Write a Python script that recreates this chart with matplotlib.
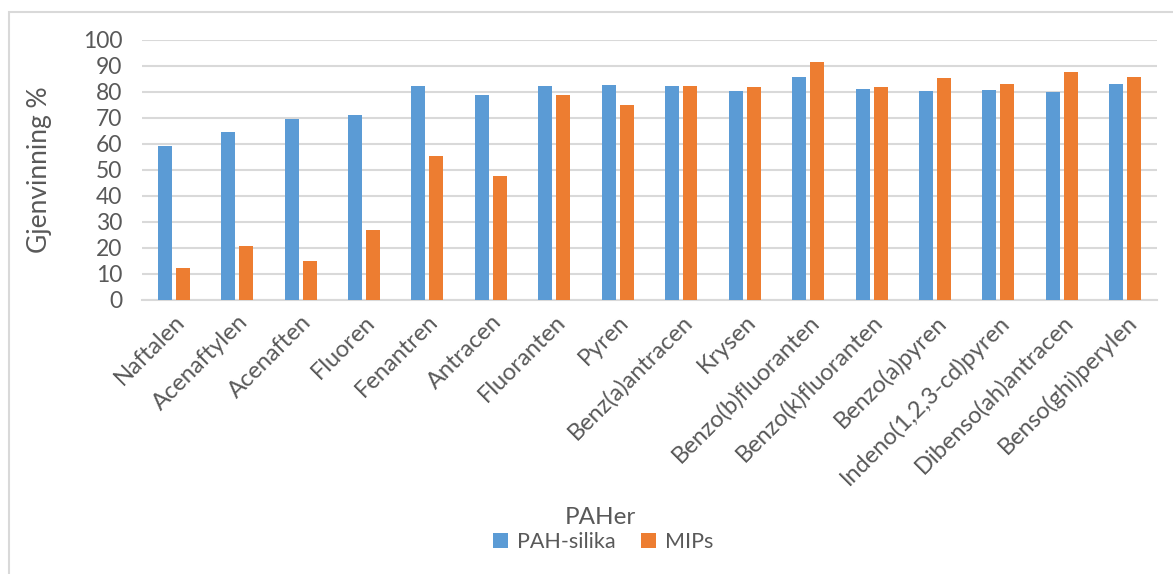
import numpy as np
import matplotlib.pyplot as plt
from matplotlib.patches import Rectangle

plt.rcParams['font.family'] = ['Lato', 'DejaVu Sans']

categories = ['Naftalen', 'Acenaftylen', 'Acenaften', 'Fluoren', 'Fenantren',
              'Antracen', 'Fluoranten', 'Pyren', 'Benz(a)antracen', 'Krysen',
              'Benzo(b)fluoranten', 'Benzo(k)fluoranten', 'Benzo(a)pyren',
              'Indeno(1,2,3-cd)pyren', 'Dibenso(ah)antracen', 'Benso(ghi)perylen']
pah_silika = [59.2, 64.7, 69.7, 71.2, 82.2, 79.0, 82.3, 82.6,
              82.2, 80.3, 85.8, 81.0, 80.4, 80.8, 80.0, 83.1]
mips = [12.2, 20.7, 15.0, 26.9, 55.3, 47.7, 78.8, 75.0,
        82.3, 81.8, 91.4, 81.8, 85.3, 83.0, 87.7, 85.6]
yticks = list(range(0, 101, 10))

text_col = '#595959'
grid_col = '#d9d9d9'

fig = plt.figure(figsize=(11.73, 5.74), dpi=100)
ax = fig.add_axes([142 / 1173, 1 - 300 / 574, (1157 - 142) / 1173, 260 / 574])

x = np.arange(len(categories))
w = 0.22
ax.bar(x - 0.142, pah_silika, w, color='#5B9BD5', label='PAH-silika', zorder=3)
ax.bar(x + 0.142, mips, w, color='#ED7D31', label='MIPs', zorder=3)

ax.set_xlim(-0.5, len(categories) - 0.5)
ax.set_ylim(0, 100)
ax.set_yticks(yticks)
ax.set_yticklabels([str(v) for v in yticks], fontsize=16.5, color=text_col)
ax.set_xticks(x)
ax.set_xticklabels(categories, rotation=45, ha='right', va='top',
                   rotation_mode='anchor', fontsize=17, color=text_col)
ax.tick_params(axis='both', length=0)
ax.tick_params(axis='y', pad=14)
ax.tick_params(axis='x', pad=8)

ax.grid(axis='y', color=grid_col, linewidth=1.5, zorder=0)
for s in ['top', 'right', 'left']:
    ax.spines[s].set_visible(False)
ax.spines['bottom'].set_color(grid_col)
ax.spines['bottom'].set_linewidth(1.5)

ax.set_ylabel('Gjenvinning %', fontsize=19, color=text_col, labelpad=22)
fig.text(600 / 1173, 1 - 517 / 574, 'PAHer', fontsize=17.5, color=text_col,
         ha='center', va='center')
fig.legend(loc='center', bbox_to_anchor=(603 / 1173, 1 - 542 / 574), ncol=2,
           frameon=False, fontsize=15.5, labelcolor=text_col, handlelength=0.7,
           handleheight=0.7, columnspacing=1.2, handletextpad=0.4)

fig.patches.append(Rectangle((9 / 1173, -0.1), 1.2, 1.1 - 12 / 574,
                             transform=fig.transFigure, fill=False,
                             edgecolor=grid_col, linewidth=1.5))

fig.savefig('out.png', dpi=100)
